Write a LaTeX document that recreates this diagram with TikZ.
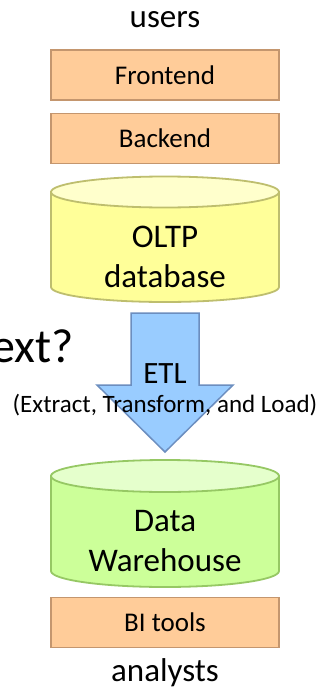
\documentclass[tikz,border=0pt]{standalone}
\usepackage{fontspec}
\setmainfont{Carlito}
\definecolor{boxfill}{RGB}{255,204,153}
\definecolor{boxdraw}{RGB}{196,150,110}
\definecolor{ybody}{RGB}{255,255,153}
\definecolor{ytop}{RGB}{255,255,204}
\definecolor{ydraw}{RGB}{190,190,110}
\definecolor{gbody}{RGB}{204,255,153}
\definecolor{gtop}{RGB}{229,255,204}
\definecolor{gdraw}{RGB}{150,200,100}
\definecolor{afill}{RGB}{153,204,255}
\definecolor{adraw}{RGB}{108,142,191}
\tikzset{
  boxnode/.style={draw=boxdraw, fill=boxfill, line width=1.8pt, minimum width=228pt, minimum height=50pt, inner sep=0pt, font=\fontsize{27}{32}\selectfont},
  plainlabel/.style={inner sep=0pt, anchor=base, font=\fontsize{33}{40}\selectfont},
  cyltext/.style={inner sep=0pt, align=center, font=\fontsize{33}{40}\selectfont},
  cylline/.style={line width=1.8pt}
}
\begin{document}
\begin{tikzpicture}[x=1pt,y=-1pt]
\useasboundingbox (0,0) rectangle (322,693);
\fill[white] (0,0) rectangle (322,693);

% users and top boxes
\node[plainlabel] (users) at (165,28) {users};
\node[boxnode] (frontend) at (165,75) {Frontend};
\node[boxnode] (backend) at (165,138.5) {Backend};

% OLTP cylinder
\draw[cylline, draw=ydraw, fill=ybody] (51,192) -- (51,287) arc[start angle=180, end angle=360, x radius=114pt, y radius=15pt] -- (279,192) -- cycle;
\draw[cylline, draw=ydraw, fill=ytop] (165,192) ellipse [x radius=114pt, y radius=15.5pt];
\node[cyltext] (oltp) at (165,256.5) {OLTP\\database};

% ETL arrow
\draw[line width=1.5pt, draw=adraw, fill=afill, line join=miter]
  (131,313) -- (199,313) -- (199,385) -- (233,385) -- (165,452) -- (97,385) -- (131,385) -- cycle;
\node[inner sep=0pt, anchor=base, font=\fontsize{31}{36}\selectfont] (etl) at (165,383) {ETL};
\node[inner sep=0pt, anchor=base, font=\fontsize{25}{30}\selectfont] (etlfull) at (165,412) {(Extract, Transform, and Load)};

% cut-off question
\node[inner sep=0pt, anchor=base east, font=\fontsize{48}{56}\selectfont] (next) at (74,362) {ext?};

% Data warehouse cylinder
\draw[cylline, draw=gdraw, fill=gbody] (51,476) -- (51,571) arc[start angle=180, end angle=360, x radius=114pt, y radius=16pt] -- (279,476) -- cycle;
\draw[cylline, draw=gdraw, fill=gtop] (165,476) ellipse [x radius=114pt, y radius=16pt];
\node[cyltext] (dw) at (165,541.5) {Data\\Warehouse};

% BI tools and analysts
\node[boxnode] (bi) at (165,622.5) {BI tools};
\node[plainlabel] (analysts) at (165,681) {analysts};
\end{tikzpicture}
\end{document}
